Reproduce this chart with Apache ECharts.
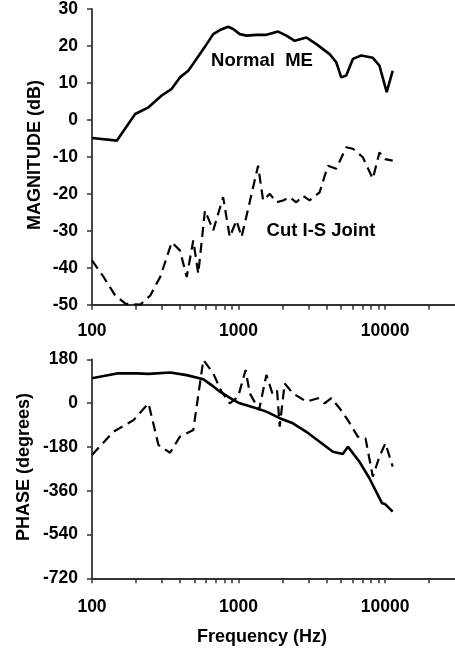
<!DOCTYPE html>
<html><head><meta charset="utf-8">
<script src="https://cdn.jsdelivr.net/npm/echarts@6/dist/echarts.min.js"></script>
<style>html,body{margin:0;padding:0;background:#fff}#c{width:455px;height:651px}</style>
</head><body><div id="c"></div>
<script>
// Magnitude (dB) vs frequency (Hz)
const normalMagFreq = [100,148,197,243,299,350,398,454,545,606,672,746,850,919,1020,1133,1325,1549,1862,2122,2418,2902,3396,4181,4644,5022,5432,6028,6874,8245,9150,10260,11270];
const normalMagDb   = [-4.9,-5.6,1.6,3.4,6.6,8.4,11.5,13.3,17.8,20.5,23.2,24.3,25.2,24.6,23.2,22.8,23.0,23.0,23.9,22.8,21.4,22.3,20.5,17.8,15.6,11.5,12.0,16.5,17.4,16.8,14.7,7.5,13.3];
const cutMagFreq = [100,120,144,169,213,250,292,350,398,443,491,531,590,672,785,871,968,1049,1360,1471,1634,1813,2012,2231,2477,2752,3055,3573,4070,4644,5432,6028,7049,8245,9150,10000,11270];
const cutMagDb   = [-38.0,-42.5,-47.5,-49.7,-50,-47.5,-42.5,-33.1,-35.3,-42.5,-32.6,-41.6,-24.5,-29.9,-20.9,-31.7,-27.2,-31.7,-12.4,-21.8,-20.0,-22.3,-21.8,-20.9,-22.3,-20.5,-21.8,-19.6,-12.4,-13.2,-7.4,-7.8,-10.1,-15.9,-8.8,-10.6,-11.0];
// Phase (degrees) vs frequency (Hz)
const normalPhFreq = [100,148,202,243,341,443,575,654,746,919,1020,1325,1549,1909,2350,2902,3573,4405,5155,5574,6686,7819,8690,9544,10000,11270];
const normalPhDeg  = [102,122,122,120,126,115,98,74,47,13,-1,-21,-35,-62,-83,-118,-159,-200,-209,-179,-241,-309,-364,-412,-415,-446];
const cutPhFreq = [100,140,192,243,284,341,398,491,575,672,766,871,993,1117,1194,1381,1549,1702,1831,1909,2064,2350,2902,3482,3865,4293,4890,5574,6512,7352,8245,9150,10050,11270];
const cutPhDeg  = [-213,-118,-70,-1,-172,-204,-138,-111,177,122,47,-1,26,136,40,-28,116,40,54,-97,81,40,6,20,-1,20,-21,-70,-138,-145,-302,-220,-165,-261];
// Axis ticks
const xLabelVals = [100,1000,10000];
const xTickVals = [100,200,300,400,500,600,700,800,900,1000,2000,3000,4000,5000,6000,7000,8000,9000,10000,20000];
const magTicks = {min:-50,max:30,step:10};
const phTicks = {min:-720,max:180,step:180};

const FONT = 'Liberation Sans, Arial, sans-serif';
const lblStyle = {fontFamily:FONT,fontWeight:'bold',fontSize:17.5,color:'#000'};
const axLine = {show:true,onZero:false,lineStyle:{color:'#333',width:1.8}};
const pair = (xs,ys)=>xs.map((x,i)=>[x,ys[i]]);

function xAx(gi){
  return {type:'log',logBase:10,gridIndex:gi,min:100,max:30000,
    axisLine:axLine,
    axisTick:{show:true,inside:false,length:5,lineStyle:{color:'#333',width:1.5},customValues:xTickVals},
    axisLabel:{show:false},
    splitLine:{show:false},minorTick:{show:false}};
}
function yAx(gi,t){
  return {type:'value',gridIndex:gi,min:t.min,max:t.max,interval:t.step,
    axisLine:axLine,
    axisTick:{show:true,inside:false,length:5,lineStyle:{color:'#333',width:1.5}},
    axisLabel:{...lblStyle,margin:14,showMinLabel:true,showMaxLabel:true},
    splitLine:{show:false}};
}
const chart = echarts.init(document.getElementById('c'),null,{renderer:'canvas'});
chart.setOption({
  animation:false,
  backgroundColor:'#fff',
  grid:[{left:92,top:8.3,width:365,height:296.4},{left:92,top:359.3,width:365,height:219}],
  xAxis:[xAx(0),xAx(1)],
  yAxis:[yAx(0,magTicks),yAx(1,phTicks)],
  series:[
    {type:'line',xAxisIndex:0,yAxisIndex:0,data:pair(normalMagFreq,normalMagDb),symbol:'none',lineStyle:{color:'#000',width:2.6}},
    {type:'line',xAxisIndex:0,yAxisIndex:0,data:pair(cutMagFreq,cutMagDb),symbol:'none',lineStyle:{color:'#000',width:2.2,type:[10,6]}},
    {type:'line',xAxisIndex:1,yAxisIndex:1,data:pair(normalPhFreq,normalPhDeg),symbol:'none',lineStyle:{color:'#000',width:2.6}},
    {type:'line',xAxisIndex:1,yAxisIndex:1,data:pair(cutPhFreq,cutPhDeg),symbol:'none',lineStyle:{color:'#000',width:2.2,type:[10,6]}}
  ]
});
// All text elements in one list; frequency tick labels positioned through the library's log scale
const textEl = (id,x,y,text,size,rot)=>({type:'text',id:id,x:x,y:y,rotation:rot||0,
  style:{text:text,font:'bold '+size+'px '+FONT,fill:'#000',align:'center',verticalAlign:'middle'}});
const graphics = [
  textEl('t1',35,155,'MAGNITUDE (dB)',18,Math.PI/2),
  textEl('t2',24,467,'PHASE (degrees)',18,Math.PI/2),
  textEl('t3',262,637,'Frequency (Hz)',18),
  textEl('t4',262,61,'Normal  ME',18.5),
  textEl('t5',321,231,'Cut I-S Joint',18.5)
];
[[0,331],[1,607]].forEach(([ai,yy])=>{
  xLabelVals.forEach((v,i)=>{
    const px = chart.convertToPixel({xAxisIndex:ai}, v);
    graphics.push(textEl('xl'+ai+'_'+i,px,yy,String(v),17.5));
  });
});
chart.setOption({graphic:graphics});
</script></body></html>
